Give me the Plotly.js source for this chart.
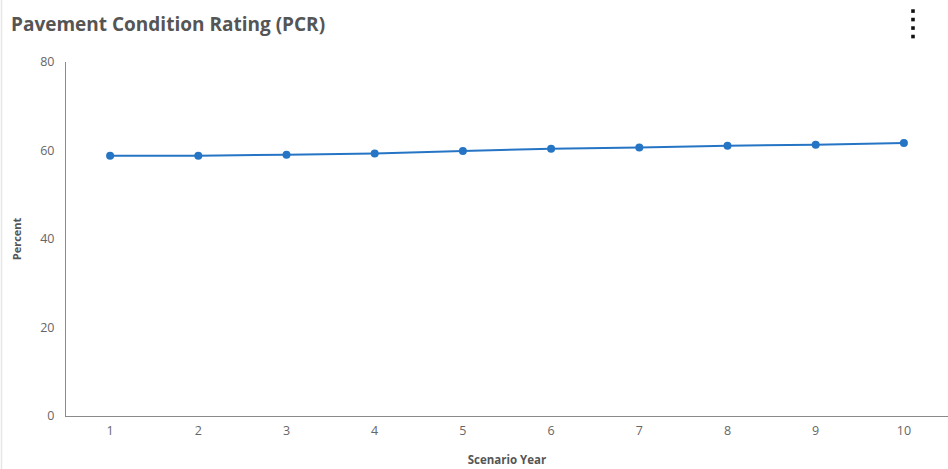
<!DOCTYPE html>
<html>
<head>
<meta charset="utf-8">
<script src="https://cdn.plot.ly/plotly-3.0.1.min.js"></script>
<style>
  html, body { margin: 0; padding: 0; background: #fff; }
  #chart { width: 948px; height: 469px; }
</style>
</head>
<body>
<div id="chart"></div>
<script>
// Scenario years and pavement condition rating (percent)
const years = [1, 2, 3, 4, 5, 6, 7, 8, 9, 10];
const pcr = [58.8, 58.8, 59.05, 59.3, 59.9, 60.4, 60.7, 61.1, 61.3, 61.7];
const yTicks = [0, 20, 40, 60, 80];

const W = 948, H = 469;
const M = { l: 66, r: 0, t: 62, b: 52.5 };
const plotW = W - M.l - M.r;
const plotH = H - M.t - M.b;

const trace = {
  x: years,
  y: pcr,
  type: 'scatter',
  mode: 'lines+markers',
  line: { color: '#2675c5', width: 2 },
  marker: { color: '#2675c5', size: 8 },
  hoverinfo: 'x+y'
};

// menu dots in the top-right corner
const dotShapes = [11, 19.5, 28, 36.5].map(py => ({
  type: 'rect',
  xref: 'paper', yref: 'paper',
  xsizemode: 'pixel', ysizemode: 'pixel',
  xanchor: (913 - M.l) / plotW,
  yanchor: (H - M.b - py) / plotH,
  x0: -1.8, x1: 1.8, y0: -1.8, y1: 1.8,
  fillcolor: '#111', line: { width: 0 }
}));

const layout = {
  width: W,
  height: H,
  margin: M,
  paper_bgcolor: '#fff',
  plot_bgcolor: '#fff',
  showlegend: false,
  title: {
    text: 'Pavement Condition Rating (PCR)',
    x: 11 / W, xref: 'container', xanchor: 'left',
    y: 1 - 24 / H, yref: 'container', yanchor: 'middle',
    font: { family: 'Open Sans, sans-serif', size: 19, color: '#555', weight: 'bold' }
  },
  xaxis: {
    range: [0.5, 10.5],
    tickvals: years,
    ticktext: years.map(String),
    showgrid: false, zeroline: false,
    showline: true, linecolor: '#8a8a8a', linewidth: 1,
    ticks: '', ticklabelstandoff: 3,
    tickfont: { family: 'Open Sans, sans-serif', size: 12.5, color: '#666' },
    title: {
      text: 'Scenario Year', standoff: 17,
      font: { family: 'Open Sans, sans-serif', size: 11.5, color: '#555', weight: 'bold' }
    },
    fixedrange: true
  },
  yaxis: {
    range: [0, 80],
    tickvals: yTicks,
    showgrid: false, zeroline: false,
    showline: true, linecolor: '#8a8a8a', linewidth: 1,
    ticks: '', ticklabelstandoff: 8,
    tickfont: { family: 'Open Sans, sans-serif', size: 12.5, color: '#666' },
    title: {
      text: 'Percent', standoff: 16,
      font: { family: 'Open Sans, sans-serif', size: 11, color: '#555', weight: 'bold' }
    },
    fixedrange: true
  },
  shapes: [
    {
      type: 'line', xref: 'paper', yref: 'paper',
      x0: (1.5 - M.l) / plotW, x1: (1.5 - M.l) / plotW,
      y0: -0.2, y1: 1.3,
      line: { color: '#e6e6e6', width: 1.5 }
    }
  ].concat(dotShapes)
};

Plotly.newPlot('chart', [trace], layout, { displayModeBar: false });
</script>
</body>
</html>
